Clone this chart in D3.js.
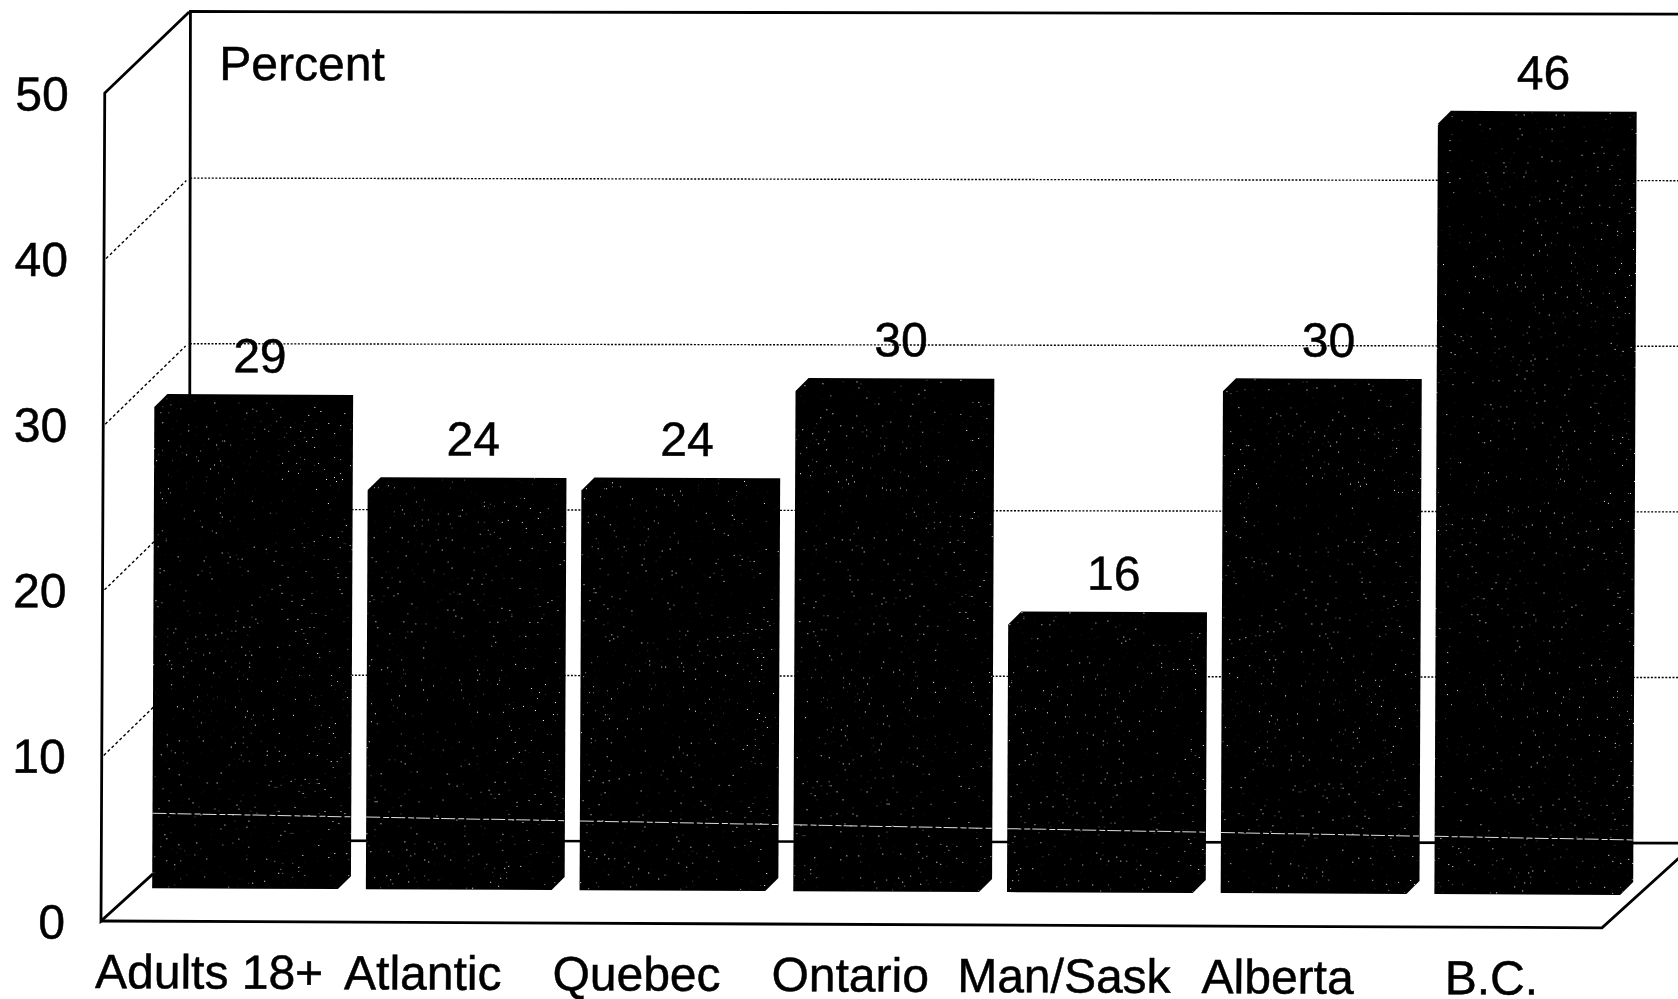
<!DOCTYPE html>
<html>
<head>
<meta charset="utf-8">
<script src="https://cdn.jsdelivr.net/npm/d3@7"></script>
<style>
  html, body { margin: 0; padding: 0; background: #fff; }
  svg { display: block; }
  text { font-family: "Liberation Sans", Arial, sans-serif; font-size: 48px; fill: #000; stroke: #000; stroke-width: 0.5px; }
  .axis path, .axis line { display: none; }
  .axis text { font-family: "Liberation Sans", Arial, sans-serif; font-size: 48px; fill: #000; }
</style>
</head>
<body>
<svg id="chart" width="1678" height="999"></svg>
<script>
const categories = ["Adults 18+", "Atlantic", "Quebec", "Ontario", "Man/Sask", "Alberta", "B.C."];
const percents   = [29, 24, 24, 30, 16, 30, 46];
const yTicks     = [0, 10, 20, 30, 40, 50];
const gridTicks  = [10, 20, 30, 40];

const width = 1678, height = 999;

// the box: front plane and how far back the wall sits
const front = { left: 101, right: 1602 },
      depth = { x: 88, y: -80.5 };

// scales
const y = d3.scaleLinear().domain([0, 50]).range([921, 93]);
const x = d3.scaleBand()
            .domain(categories)
            .range([152, 1633])
            .paddingInner(0.07)
            .paddingOuter(0);

const data = categories.map((name, i) => ({ name: name, value: percents[i] }));

const svg = d3.select("#chart").attr("viewBox", "0 0 " + width + " " + height);

// scanner speckle on the bars
const speckle = svg.append("defs").append("filter")
    .attr("id", "speckle")
    .attr("x", 0).attr("y", 0).attr("width", 1).attr("height", 1);
speckle.append("feTurbulence")
    .attr("type", "fractalNoise")
    .attr("baseFrequency", 0.5)
    .attr("numOctaves", 2)
    .attr("seed", 7)
    .attr("result", "noise");
speckle.append("feColorMatrix")
    .attr("in", "noise")
    .attr("type", "matrix")
    .attr("values", "0 0 0 0 1  0 0 0 0 1  0 0 0 0 1  0 0 0 16 -11.9")
    .attr("result", "dots");
speckle.append("feComposite")
    .attr("in", "dots")
    .attr("in2", "SourceAlpha")
    .attr("operator", "in");

// the wall is less skewed than the front of the picture
const back = svg.append("g")
    .attr("transform", "rotate(0.1 " + (front.left + depth.x) + " " + (y(0) + depth.y) + ")");
const frontG = svg.append("g")
    .attr("transform", "rotate(0.26 " + front.left + " " + y(0) + ")");

// back wall gridlines
back.selectAll(".grid")
    .data(gridTicks)
  .enter().append("line")
    .attr("class", "grid")
    .attr("x1", front.left + depth.x)
    .attr("x2", width + 10)
    .attr("y1", d => y(d) + depth.y)
    .attr("y2", d => y(d) + depth.y)
    .attr("stroke", "#000")
    .attr("stroke-width", 1.4)
    .attr("stroke-dasharray", "2 1.6");

// back wall outline
back.append("path")
    .attr("d", d3.line()([
      [front.left + depth.x, y(0) + depth.y],
      [front.left + depth.x, y(50) + depth.y - 1],
      [width + 10, y(50) + depth.y - 1]
    ]))
    .attr("fill", "none")
    .attr("stroke", "#000")
    .attr("stroke-width", 2.8);

// back edge of the floor
back.append("line")
    .attr("x1", front.left + depth.x)
    .attr("x2", width + 10)
    .attr("y1", y(0) + depth.y)
    .attr("y2", y(0) + depth.y)
    .attr("stroke", "#000")
    .attr("stroke-width", 2.6);

// side wall: diagonal gridlines
frontG.selectAll(".side")
    .data(gridTicks)
  .enter().append("line")
    .attr("class", "side")
    .attr("x1", front.left + 2)
    .attr("x2", front.left + depth.x - 6)
    .attr("y1", d => y(d))
    .attr("y2", d => y(d) + depth.y + 2)
    .attr("stroke", "#000")
    .attr("stroke-width", 1.4)
    .attr("stroke-dasharray", "3 2.5");

// side wall and floor outline
frontG.append("path")
    .attr("d", d3.line()([
      [front.left + depth.x - 4, y(50) + depth.y - 1],
      [front.left, y(50)],
      [front.left, y(0)],
      [front.left + depth.x, y(0) + depth.y]
    ]))
    .attr("fill", "none")
    .attr("stroke", "#000")
    .attr("stroke-width", 2.8);
frontG.append("path")
    .attr("d", d3.line()([
      [front.left, y(0)],
      [front.right, y(0)],
      [front.right + depth.x, y(0) + depth.y]
    ]))
    .attr("fill", "none")
    .attr("stroke", "#000")
    .attr("stroke-width", 2.8);

// bar outline with the two cut corners
const floorGap = 33, lift = 14, cut = 13;
// tall bars on the right lean up a little in the scan
const keystone = d => 1.27e-4 * (x(d.name) - x.range()[0]) * d.value;
const barTop    = d => y(d.value) - floorGap - lift - keystone(d);
const barBottom = y(0) - floorGap;
const barPath = d => {
  const x0 = x(d.name), x1 = x0 + x.bandwidth(), t = barTop(d);
  return d3.line()([
    [x0, t + cut], [x0 + cut, t], [x1, t],
    [x1, barBottom - cut], [x1 - cut, barBottom], [x0, barBottom]
  ]) + "Z";
};

const bars = frontG.selectAll(".bar")
    .data(data)
  .enter().append("g")
    .attr("class", "bar");

bars.append("path")
    .attr("d", barPath)
    .attr("fill", "#000");

bars.append("path")
    .attr("d", barPath)
    .attr("fill", "#fff")
    .attr("filter", "url(#speckle)");

// the pale line where the floor shows through the bars
const hair = d3.scaleLinear()
    .domain([x.range()[0], x.range()[1]])
    .range([y(0) - 108, y(0) - 88]);
bars.append("line")
    .attr("x1", d => x(d.name))
    .attr("x2", d => x(d.name) + x.bandwidth())
    .attr("y1", d => hair(x(d.name)))
    .attr("y2", d => hair(x(d.name) + x.bandwidth()))
    .attr("stroke", "#ddd")
    .attr("stroke-width", 1)
    .attr("stroke-dasharray", "14 3 6 2");

// value labels
bars.append("text")
    .attr("x", d => x(d.name) + x.bandwidth() / 2 + 6)
    .attr("y", d => barTop(d) - 22)
    .attr("text-anchor", "middle")
    .text(d => d.value);

// axes
frontG.append("g")
    .attr("class", "y axis")
    .attr("transform", "translate(" + front.left + ",0)")
    .call(d3.axisLeft(y).tickValues(yTicks).tickSize(0).tickPadding(36))
    .selectAll("text").attr("dy", "0.36em");

frontG.append("g")
    .attr("class", "x axis")
    .attr("transform", "translate(-42," + y(0) + ")")
    .call(d3.axisBottom(x).tickSize(0).tickPadding(33));

// unit label
back.append("text")
    .attr("x", 218)
    .attr("y", 80)
    .text("Percent");
</script>
</body>
</html>
